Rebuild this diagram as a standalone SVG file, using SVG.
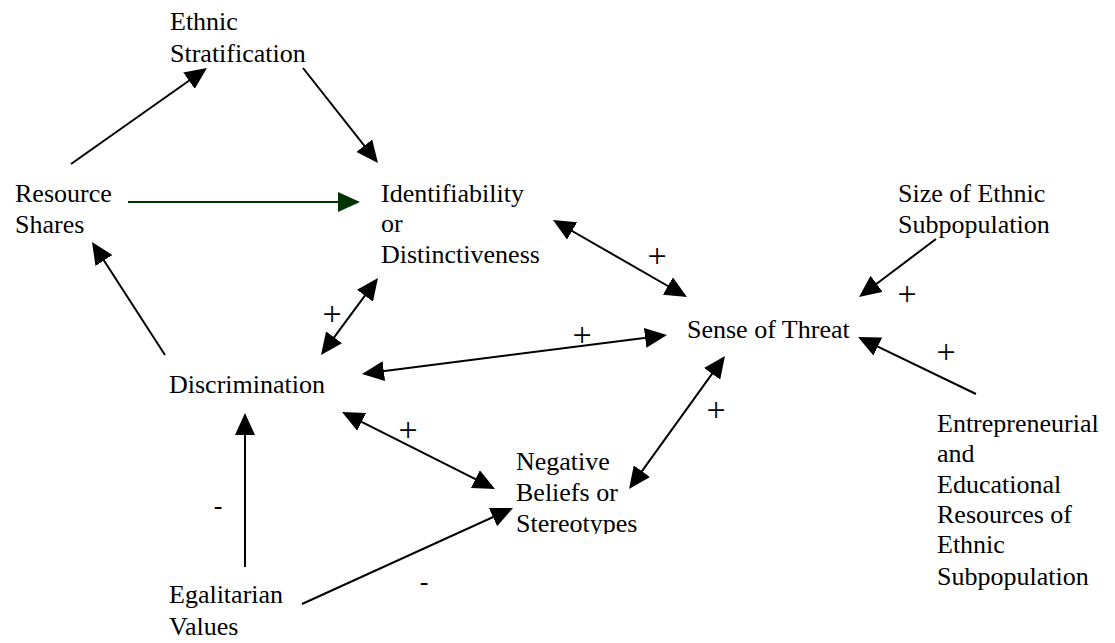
<svg xmlns="http://www.w3.org/2000/svg" width="1115" height="643" viewBox="0 0 1115 643">
<defs>
<style>
text{font-family:'Liberation Serif','Times New Roman',serif;font-size:26px;fill:#000}
.s{text-anchor:middle}
.p{font-size:34px}
.c{stroke:#000;stroke-width:2;fill:none;marker-end:url(#ah)}
.d{stroke:#000;stroke-width:2;fill:none;marker-start:url(#ah);marker-end:url(#ah)}
.g{stroke:#003300;stroke-width:2;fill:none;marker-end:url(#ag)}
</style>
<marker id="ah" markerUnits="userSpaceOnUse" markerWidth="22" markerHeight="20" refX="19" refY="10" orient="auto-start-reverse" viewBox="0 0 22 20">
<path d="M0,0 L22,10 L0,20 Z" fill="#000"/>
</marker>
<marker id="ag" markerUnits="userSpaceOnUse" markerWidth="22" markerHeight="20" refX="19" refY="10" orient="auto" viewBox="0 0 22 20">
<path d="M0,0 L22,10 L0,20 Z" fill="#003300"/>
</marker>
<clipPath id="clipNeg"><rect x="500" y="440" width="200" height="94"/></clipPath>
</defs>
<rect width="1115" height="643" fill="#fff"/>
<g id="connectors">
<line class="c" x1="71" y1="164" x2="204.5" y2="69.7"/>
<line class="c" x1="303" y1="68" x2="376.1" y2="160.6"/>
<line class="g" x1="128" y1="202" x2="357" y2="202"/>
<line class="c" x1="165" y1="355" x2="93.6" y2="244.5"/>
<line class="d" x1="376.2" y1="280.4" x2="322.8" y2="352.6"/>
<line class="d" x1="555.6" y1="221.5" x2="684.4" y2="295.5"/>
<line class="d" x1="365" y1="373.6" x2="664" y2="335.4"/>
<line class="d" x1="344.7" y1="413.3" x2="492.3" y2="487.7"/>
<line class="c" x1="245" y1="567" x2="245" y2="416"/>
<line class="c" x1="302" y1="604" x2="510.3" y2="509.2"/>
<line class="d" x1="723.2" y1="358.4" x2="630.8" y2="486.6"/>
<line class="c" x1="936" y1="239" x2="861.4" y2="295.2"/>
<line class="c" x1="976" y1="394" x2="860.7" y2="338.3"/>
</g>
<g id="labels">
<text class="s p" x="657" y="267">+</text>
<text class="s p" x="332" y="325">+</text>
<text class="s p" x="582" y="346">+</text>
<text class="s p" x="907" y="305">+</text>
<text class="s p" x="946" y="363">+</text>
<text class="s p" x="716" y="421">+</text>
<text class="s p" x="408" y="441">+</text>
<text class="s" x="218" y="514">-</text>
<text class="s" x="424" y="590">-</text>
</g>
<g id="ethnic-stratification">
<text x="170" y="30">Ethnic</text>
<text x="170" y="62">Stratification</text>
</g>
<g id="resource-shares">
<text x="15" y="202">Resource</text>
<text x="15" y="233">Shares</text>
</g>
<g id="identifiability">
<text x="381" y="202">Identifiability</text>
<text x="381" y="232">or</text>
<text x="381" y="263">Distinctiveness</text>
</g>
<g id="size-of-ethnic-subpopulation">
<text x="898" y="202">Size of Ethnic</text>
<text x="898" y="233">Subpopulation</text>
</g>
<g id="sense-of-threat">
<text x="687" y="338">Sense of Threat</text>
</g>
<g id="discrimination">
<text x="169" y="393">Discrimination</text>
</g>
<g id="negative-beliefs" clip-path="url(#clipNeg)">
<text x="516" y="470">Negative</text>
<text x="516" y="501">Beliefs or</text>
<text x="516" y="532">Stereotypes</text>
</g>
<g id="egalitarian-values">
<text x="169" y="603">Egalitarian</text>
<text x="169" y="635">Values</text>
</g>
<g id="entrepreneurial-resources">
<text x="937" y="432">Entrepreneurial</text>
<text x="937" y="462">and</text>
<text x="937" y="493">Educational</text>
<text x="937" y="523">Resources of</text>
<text x="937" y="553">Ethnic</text>
<text x="937" y="585">Subpopulation</text>
</g>
</svg>
